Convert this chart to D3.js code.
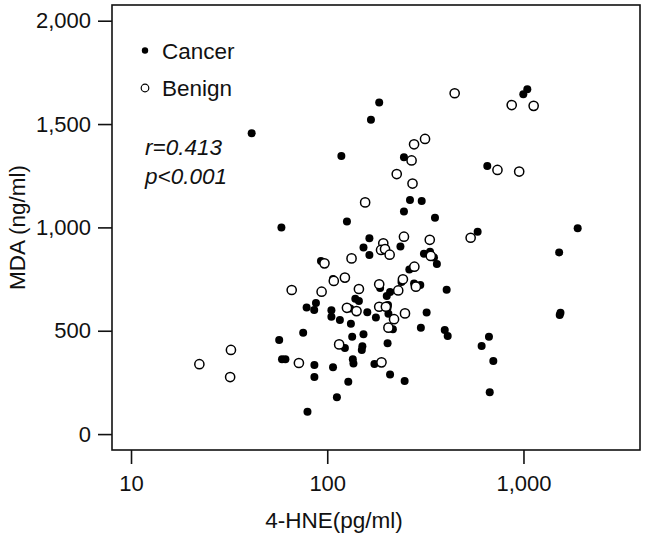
<!DOCTYPE html>
<html>
<head>
<meta charset="utf-8">
<script src="https://cdn.jsdelivr.net/npm/d3@7"></script>
<style>
  html, body { margin: 0; padding: 0; background: #fff; }
  svg { display: block; font-family: "Liberation Sans", Arial, sans-serif; }
</style>
</head>
<body>
<svg id="chart" width="646" height="542"></svg>
<script>
// ---- data ----
const seriesNames = ["Cancer", "Benign"];
const cancerX = [41.2,184,167,1046,998,118,246,654,264,303,246,354,126,58.4,584,1889,1520,164,153,236,164,311,334,350,362,92.9,262,272,107,239,277,298,186,406,209,201,139,145,87.6,78.5,85.8,204,203,131,105,105,116,160,177,205,321,1544,1530,132,216,300,397,411,75.4,56.9,134,153,667,612,123,151,150,203,58.8,61.2,86,135,136,174,107,702,86,128,209,248,112,673,79.3];
const cancerY = [1455,1604,1521,1668,1644,1346,1339,1297,1133,1128,1077,1047,1028,999,979,996,879,947,903,907,866,873,882,854,823,837,796,803,750,736,728,721,707,698,687,668,655,644,634,613,600,624,611,608,599,568,552,589,564,582,588,587,576,534,507,515,503,474,490,455,471,483,471,426,416,425,407,440,362,362,334,362,341,339,323,353,276,253,288,257,178,202,108];
const benignX = [446,871,1127,315,277,269,226,737,951,272,156,538,246,333,193,188,197,208,133,96.8,337,278,123,108,243,283,184,145,65.9,93.6,230,126,141,184,199,249,219,205,115,71.7,189,22.3,32.3,32];
const benignY = [1649,1592,1588,1428,1402,1324,1258,1278,1270,1212,1121,950,955,940,923,891,895,868,850,826,862,810,757,741,749,713,725,702,697,689,695,611,595,616,616,584,556,515,434,344,347,338,407,276];
const xTicks = [10, 100, 1000];
const yTicks = [0, 500, 1000, 1500, 2000];
const statLines = ["r=0.413", "p<0.001"];
const xTitle = "4-HNE(pg/ml)";
const yTitle = "MDA (ng/ml)";

// ---- layout ----
const L = 112, R = 640, T = 5, B = 450;
const svg = d3.select("#chart");
const x = d3.scaleLog().domain([8, 3925]).range([L, R]);
const y = d3.scaleLinear().domain([-77, 2076]).range([B, T]);
const fmt = d3.format(",");
const ink = "#111";

// axes
const gx = svg.append("g").attr("transform", `translate(0,${B})`)
  .call(d3.axisBottom(x).tickValues(xTicks).tickFormat(fmt).tickSize(14).tickPadding(11).tickSizeOuter(0));
const gy = svg.append("g").attr("transform", `translate(${L},0)`)
  .call(d3.axisLeft(y).tickValues(yTicks).tickFormat(fmt).tickSize(14).tickPadding(7).tickSizeOuter(0));
[gx, gy].forEach(g => {
  g.select(".domain").remove();
  g.selectAll(".tick line").attr("stroke", ink).attr("stroke-width", 1.6);
  g.selectAll(".tick text").attr("fill", ink).style("font-size", "22px")
    .style("font-family", '"Liberation Sans", Arial, sans-serif');
});

// frame
svg.append("rect").attr("x", L).attr("y", T).attr("width", R - L).attr("height", B - T)
  .attr("fill", "none").attr("stroke", ink).attr("stroke-width", 1.6);

// points
const cancer = cancerX.map((v, i) => ({ x: v, y: cancerY[i] }));
const benign = benignX.map((v, i) => ({ x: v, y: benignY[i] }));
svg.append("g").selectAll("circle").data(cancer).join("circle")
  .attr("cx", d => x(d.x)).attr("cy", d => y(d.y)).attr("r", 4).attr("fill", "#000");
svg.append("g").selectAll("circle").data(benign).join("circle")
  .attr("cx", d => x(d.x)).attr("cy", d => y(d.y)).attr("r", 4.6)
  .attr("fill", "#fff").attr("stroke", "#000").attr("stroke-width", 1.5);

// legend
const lg = svg.append("g");
lg.append("circle").attr("cx", 145).attr("cy", 50.5).attr("r", 3.2).attr("fill", "#000");
lg.append("circle").attr("cx", 145).attr("cy", 88).attr("r", 3.8).attr("fill", "#fff").attr("stroke", "#000").attr("stroke-width", 1.2);
lg.append("text").attr("x", 162).attr("y", 58.5).text(seriesNames[0]).style("font-size", "22.5px").attr("fill", ink);
lg.append("text").attr("x", 162).attr("y", 96).text(seriesNames[1]).style("font-size", "22.5px").attr("fill", ink);

// stats
svg.append("g").selectAll("text").data(statLines).join("text")
  .attr("x", 145).attr("y", (d, i) => 155 + i * 28.5)
  .style("font-size", "22.5px").style("font-style", "italic").attr("fill", ink)
  .text(d => d);

// titles
svg.append("text").attr("x", 334).attr("y", 528).attr("text-anchor", "middle")
  .style("font-size", "22.5px").attr("fill", ink).text(xTitle);
svg.append("text").attr("transform", `translate(25,${(T + B) / 2}) rotate(-90)`)
  .attr("text-anchor", "middle").style("font-size", "22.5px").attr("fill", ink).text(yTitle);
</script>
</body>
</html>
